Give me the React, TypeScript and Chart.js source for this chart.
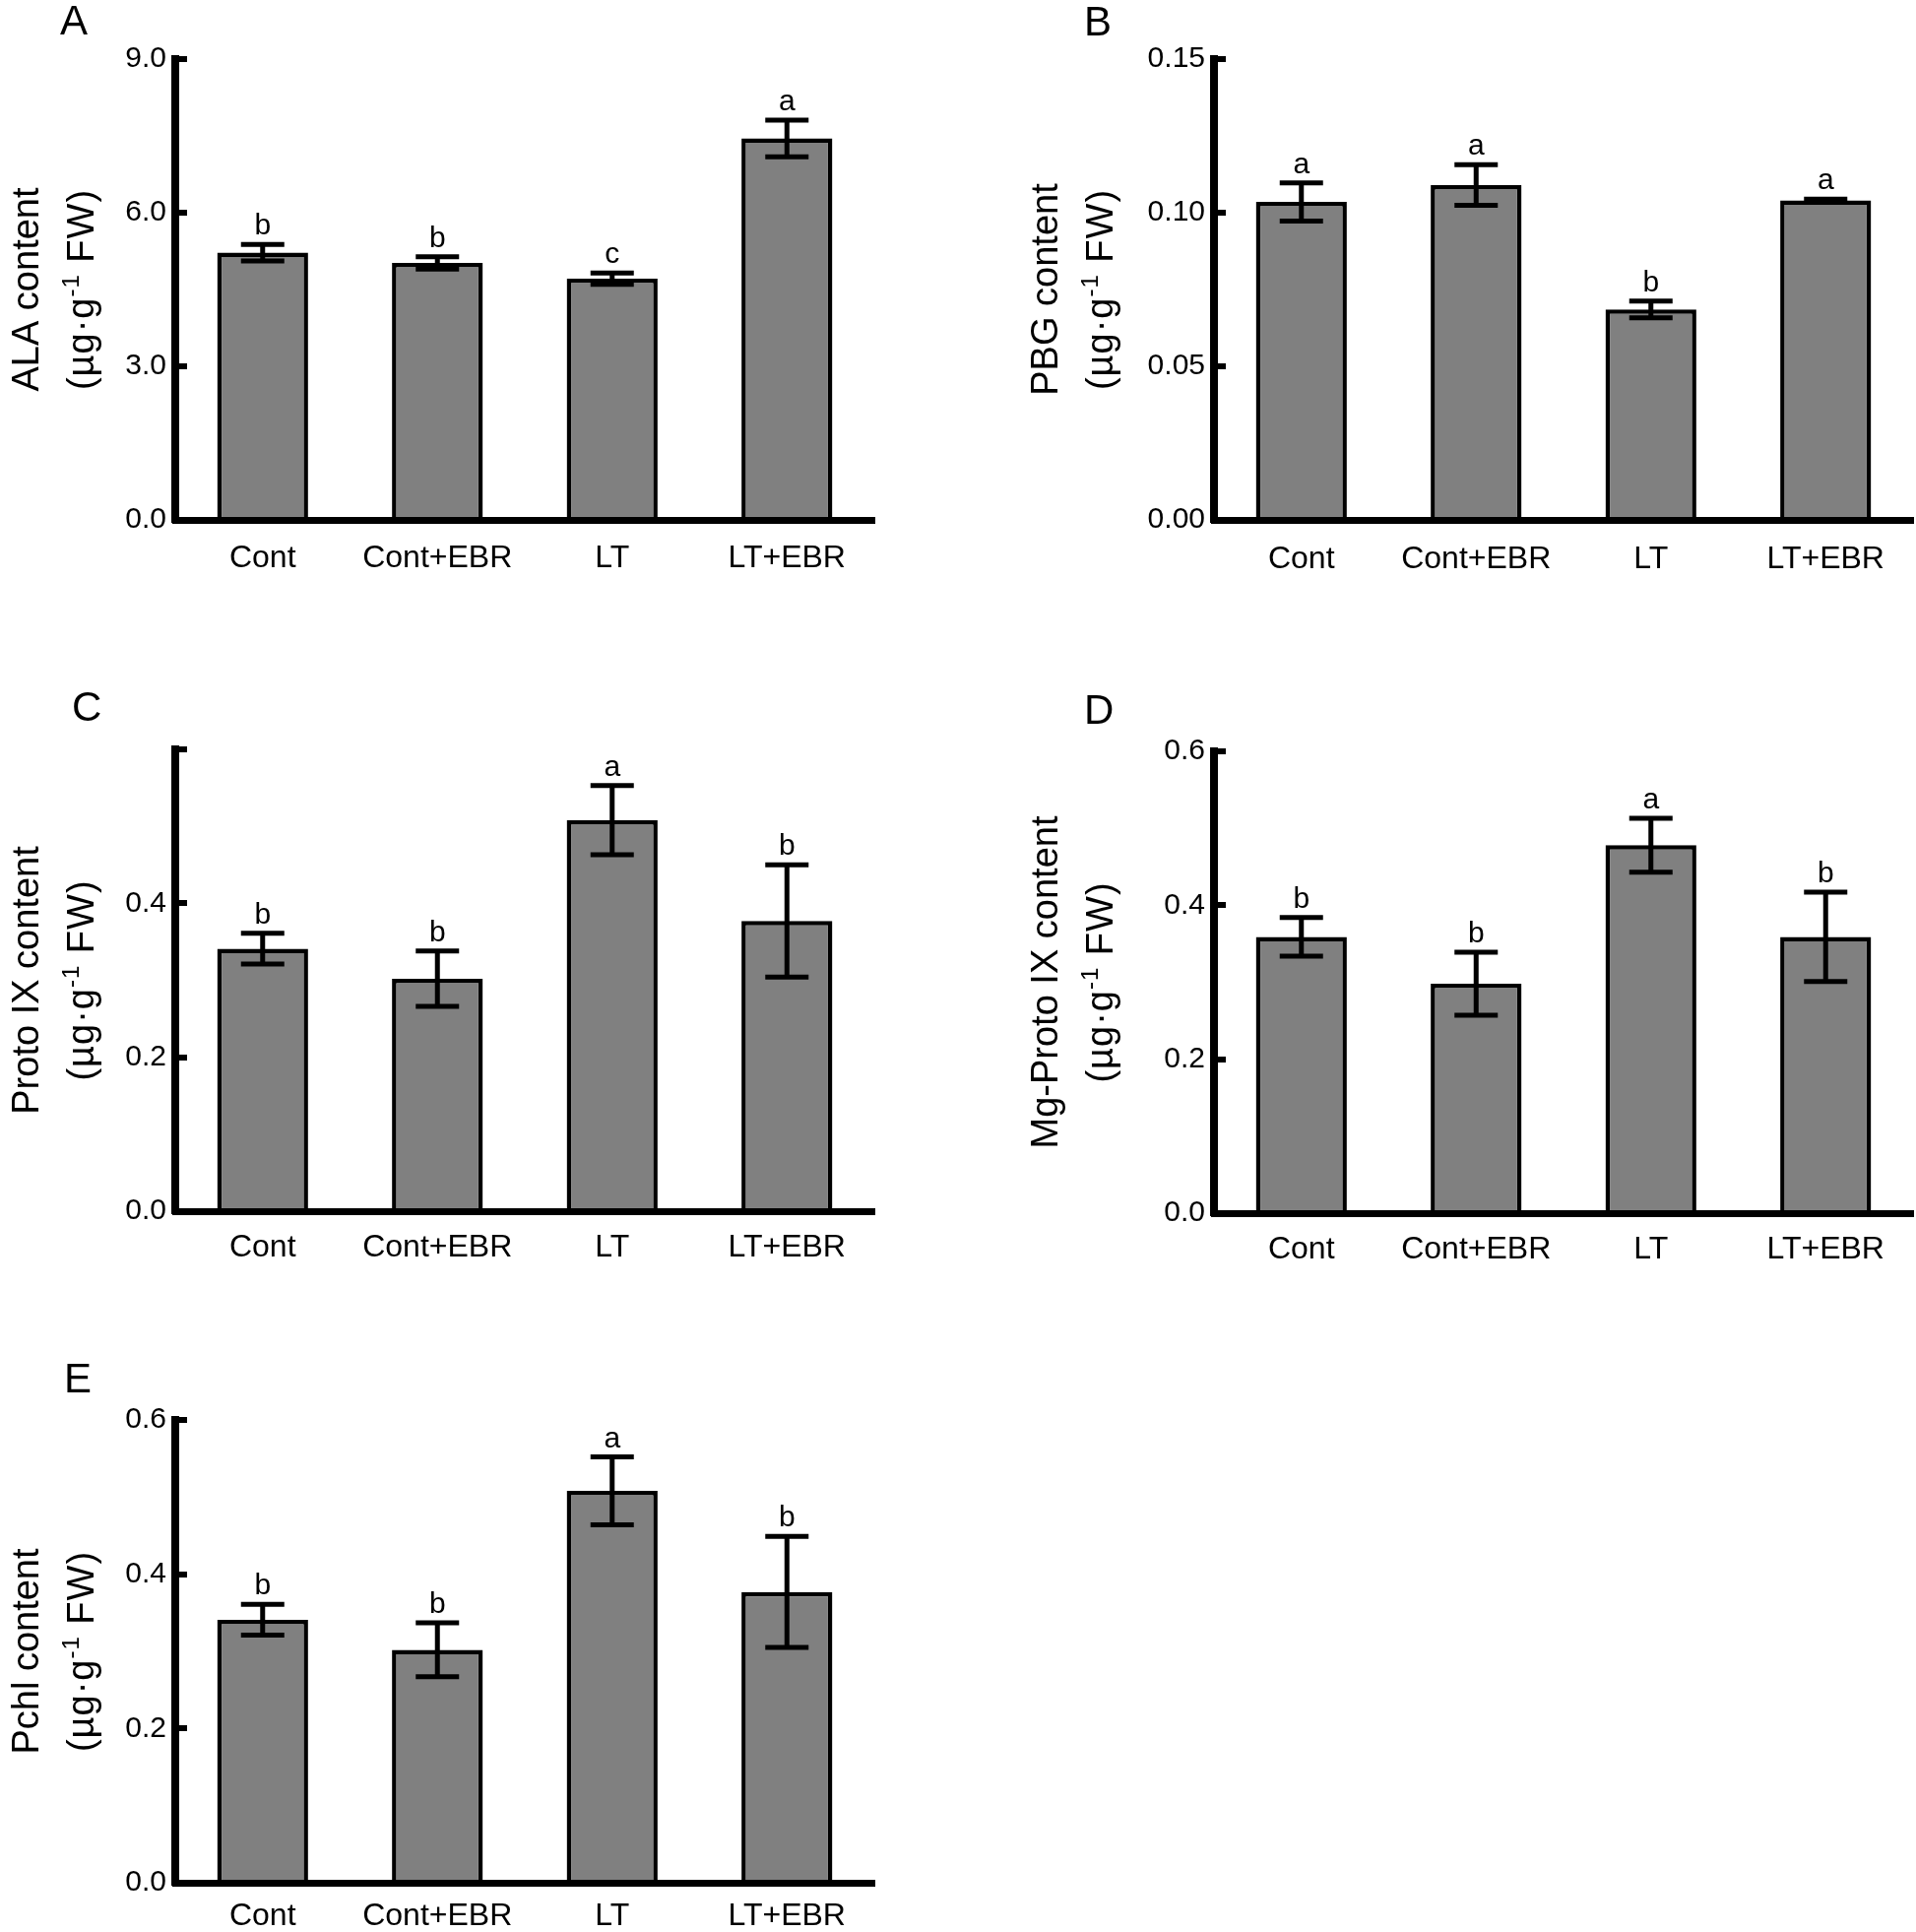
import React, { useEffect, useRef } from "react";
import { Chart, registerables } from "chart.js";

Chart.register(...registerables);

const FONT = "'Liberation Sans', Arial, Helvetica, sans-serif";

const CATEGORIES = ["Cont", "Cont+EBR", "LT", "LT+EBR"];

const ALA_MEAN = [5.22, 5.02, 4.71, 7.45];
const ALA_ERR = [0.16, 0.12, 0.11, 0.36];
const ALA_SIG = ["b", "b", "c", "a"];
const ALA_TICKS = ["0.0", "3.0", "6.0", "9.0"];

const PBG_MEAN = [0.1035, 0.109, 0.0685, 0.104];
const PBG_ERR = [0.0062, 0.0066, 0.0027, 0.0004];
const PBG_SIG = ["a", "a", "b", "a"];
const PBG_TICKS = ["0.00", "0.05", "0.10", "0.15"];

const PROTO_MEAN = [0.341, 0.302, 0.508, 0.377];
const PROTO_ERR = [0.02, 0.036, 0.045, 0.073];
const PROTO_SIG = ["b", "b", "a", "b"];
const PROTO_TICKS = ["0.0", "0.2", "0.4", ""];

const MGPROTO_MEAN = [0.359, 0.298, 0.478, 0.359];
const MGPROTO_ERR = [0.025, 0.041, 0.035, 0.058];
const MGPROTO_SIG = ["b", "b", "a", "b"];
const MGPROTO_TICKS = ["0.0", "0.2", "0.4", "0.6"];

const PCHL_MEAN = [0.341, 0.302, 0.508, 0.377];
const PCHL_ERR = [0.02, 0.035, 0.044, 0.072];
const PCHL_SIG = ["b", "b", "a", "b"];
const PCHL_TICKS = ["0.0", "0.2", "0.4", "0.6"];

type Box = { left: number; top: number; width: number; height: number };
type Area = { left: number; top: number; right: number; bottom: number };
type PanelCfg = {
  letter: string;
  title: string;
  mean: number[];
  err: number[];
  sig: string[];
  tickLabels: string[];
  max: number;
  step: number;
  canvas: Box;
  area: Area;
  xAxisH: number;
  labelPad: number;
  letterX: number;
  letterY: number;
  titleX1: number;
  titleX2: number;
};

const ROW1 = { top: 0, height: 660 };
const ROW2 = { top: 660, height: 680 };
const ROW3 = { top: 1340, height: 622 };
const COL1 = { left: 0, width: 960 };
const COL2 = { left: 960, width: 986 };

const PANELS: PanelCfg[] = [
  {
    letter: "A", title: "ALA content", mean: ALA_MEAN, err: ALA_ERR, sig: ALA_SIG,
    tickLabels: ALA_TICKS, max: 9, step: 3,
    canvas: { ...COL1, ...ROW1 },
    area: { left: 178, top: 60, right: 888, bottom: 528 },
    xAxisH: 70, labelPad: 20, letterX: 61, letterY: 35, titleX1: 39, titleX2: 95,
  },
  {
    letter: "B", title: "PBG content", mean: PBG_MEAN, err: PBG_ERR, sig: PBG_SIG,
    tickLabels: PBG_TICKS, max: 0.15, step: 0.05,
    canvas: { ...COL2, ...ROW1 },
    area: { left: 1233, top: 60, right: 1943, bottom: 528 },
    xAxisH: 70, labelPad: 21, letterX: 1101, letterY: 36, titleX1: 1074, titleX2: 1130,
  },
  {
    letter: "C", title: "Proto IX content", mean: PROTO_MEAN, err: PROTO_ERR, sig: PROTO_SIG,
    tickLabels: PROTO_TICKS, max: 0.6, step: 0.2,
    canvas: { ...COL1, ...ROW2 },
    area: { left: 178, top: 761, right: 888, bottom: 1230 },
    xAxisH: 70, labelPad: 18, letterX: 73, letterY: 732, titleX1: 39, titleX2: 95,
  },
  {
    letter: "D", title: "Mg-Proto IX content", mean: MGPROTO_MEAN, err: MGPROTO_ERR, sig: MGPROTO_SIG,
    tickLabels: MGPROTO_TICKS, max: 0.6, step: 0.2,
    canvas: { ...COL2, ...ROW2 },
    area: { left: 1233, top: 763, right: 1943, bottom: 1232 },
    xAxisH: 70, labelPad: 18, letterX: 1101, letterY: 735, titleX1: 1074, titleX2: 1130,
  },
  {
    letter: "E", title: "Pchl content", mean: PCHL_MEAN, err: PCHL_ERR, sig: PCHL_SIG,
    tickLabels: PCHL_TICKS, max: 0.6, step: 0.2,
    canvas: { ...COL1, ...ROW3 },
    area: { left: 178, top: 1442, right: 888, bottom: 1912 },
    xAxisH: 50, labelPad: 15, letterX: 65, letterY: 1414, titleX1: 39, titleX2: 95,
  },
];

function Panel({ cfg }: { cfg: PanelCfg }) {
  const ref = useRef<HTMLCanvasElement | null>(null);

  useEffect(() => {
    const canvas = ref.current;
    if (!canvas) return;
    const c = cfg.canvas;
    const a = cfg.area;
    const yW = a.left - c.left;
    const pad = {
      left: 0,
      top: a.top - c.top,
      right: c.left + c.width - a.right,
      bottom: Math.max(0, c.top + c.height - a.bottom - cfg.xAxisH),
    };

    const overlay = {
      id: "overlay" + cfg.letter,
      afterDraw(chart: any) {
        const ctx: CanvasRenderingContext2D = chart.ctx;
        const meta = chart.getDatasetMeta(0);
        const ys = chart.scales.y;
        ctx.save();
        // error bars + significance letters
        ctx.strokeStyle = "#000";
        ctx.lineWidth = 5;
        ctx.lineCap = "butt";
        ctx.fillStyle = "#000";
        ctx.font = `30px ${FONT}`;
        ctx.textAlign = "center";
        ctx.textBaseline = "alphabetic";
        cfg.mean.forEach((m, i) => {
          const el = meta.data[i];
          const x = el.x;
          const yt = ys.getPixelForValue(m + cfg.err[i]);
          const yb = ys.getPixelForValue(m - cfg.err[i]);
          const hw = 22;
          ctx.beginPath();
          ctx.moveTo(x, yt);
          ctx.lineTo(x, yb);
          ctx.moveTo(x - hw, yt);
          ctx.lineTo(x + hw, yt);
          ctx.moveTo(x - hw, yb);
          ctx.lineTo(x + hw, yb);
          ctx.stroke();
          ctx.fillText(cfg.sig[i], x, yt - 10);
        });
        // panel letter
        ctx.textAlign = "left";
        ctx.font = `42px ${FONT}`;
        ctx.fillText(cfg.letter, cfg.letterX - c.left, cfg.letterY - c.top);
        // y titles
        const cy = (chart.chartArea.top + chart.chartArea.bottom) / 2;
        ctx.save();
        ctx.translate(cfg.titleX1 - c.left, cy);
        ctx.rotate(-Math.PI / 2);
        ctx.font = `38px ${FONT}`;
        ctx.textAlign = "center";
        ctx.fillText(cfg.title, 0, 0);
        ctx.restore();

        ctx.save();
        ctx.translate(cfg.titleX2 - c.left, cy);
        ctx.rotate(-Math.PI / 2);
        const s1 = "(\u00b5g\u00b7g";
        const sup = "-1";
        const s2 = " FW)";
        ctx.textAlign = "left";
        (ctx as any).letterSpacing = "1px";
        ctx.font = `38px ${FONT}`;
        const w1 = ctx.measureText(s1).width;
        const w2 = ctx.measureText(s2).width;
        ctx.font = `24px ${FONT}`;
        const ws = ctx.measureText(sup).width;
        let x0 = -(w1 + ws + w2) / 2;
        ctx.font = `38px ${FONT}`;
        ctx.fillText(s1, x0, 0);
        x0 += w1;
        ctx.font = `24px ${FONT}`;
        ctx.fillText(sup, x0, -15);
        x0 += ws;
        ctx.font = `38px ${FONT}`;
        ctx.fillText(s2, x0, 0);
        ctx.restore();

        ctx.restore();
      },
    };

    const chart = new Chart(canvas, {
      type: "bar",
      data: {
        labels: CATEGORIES,
        datasets: [
          {
            data: cfg.mean,
            backgroundColor: "#808080",
            borderColor: "#000000",
            borderWidth: 4.5,
            borderSkipped: "bottom",
            barPercentage: 0.52,
            categoryPercentage: 1.0,
          },
        ],
      },
      options: {
        responsive: false,
        animation: false,
        devicePixelRatio: 1,
        layout: { padding: pad },
        plugins: {
          legend: { display: false },
          tooltip: { enabled: false },
          title: { display: false },
        },
        scales: {
          x: {
            z: 1,
            grid: { display: false, drawTicks: false, tickLength: 0 },
            border: { display: true, color: "#000", width: 7 },
            ticks: {
              color: "#000",
              font: { family: FONT, size: 32 },
              padding: cfg.labelPad,
              maxRotation: 0,
              autoSkip: false,
            },
            afterFit: (s: any) => {
              s.height = cfg.xAxisH;
            },
          },
          y: {
            z: 1,
            min: 0,
            max: cfg.max,
            grid: {
              display: true,
              drawOnChartArea: false,
              drawTicks: true,
              tickLength: -12,
              tickWidth: 6,
              tickColor: "#000",
              color: "#000",
              lineWidth: 6,
            },
            border: { display: true, color: "#000", width: 8 },
            ticks: {
              stepSize: cfg.step,
              color: "#000",
              font: { family: FONT, size: 30 },
              padding: 21,
              callback: (v: any) => cfg.tickLabels[Math.round(Number(v) / cfg.step)] ?? "",
            },
            afterFit: (s: any) => {
              s.width = yW;
            },
          },
        },
      },
      plugins: [overlay],
    } as any);

    return () => chart.destroy();
  }, [cfg]);

  const c = cfg.canvas;
  return (
    <canvas
      ref={ref}
      width={c.width}
      height={c.height}
      style={{ position: "absolute", left: c.left, top: c.top, width: c.width, height: c.height }}
    />
  );
}

export default function App() {
  return (
    <div
      style={{
        position: "absolute",
        left: 0,
        top: 0,
        width: 1946,
        height: 1962,
        background: "#fff",
        overflow: "hidden",
      }}
    >
      {PANELS.map((p) => (
        <Panel key={p.letter} cfg={p} />
      ))}
    </div>
  );
}
